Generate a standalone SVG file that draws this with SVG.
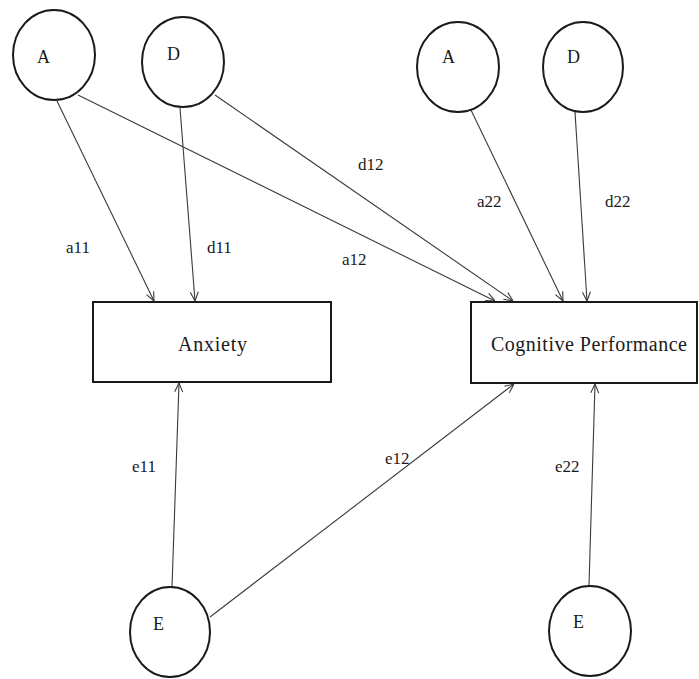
<svg xmlns="http://www.w3.org/2000/svg" width="699" height="679" viewBox="0 0 699 679">
  <style>
    .latent { fill: #ffffff; stroke: #1a1a1a; stroke-width: 2; }
    .observed { fill: #ffffff; stroke: #1a1a1a; stroke-width: 2; }
    .path { stroke: #3a3a3a; stroke-width: 1.1; fill: none; marker-end: url(#arrow); }
    .var { font-family: "Liberation Serif", serif; font-size: 18px; fill: #1a1a1a; }
    .box { font-family: "Liberation Serif", serif; font-size: 20px; fill: #1a1a1a; }
    .coef { font-family: "Liberation Serif", serif; font-size: 17px; fill: #1a1a1a; }
  </style>
  <defs>
    <marker id="arrow" viewBox="0 0 10 10" refX="10" refY="5" markerWidth="10" markerHeight="10" markerUnits="userSpaceOnUse" orient="auto">
      <path d="M1,1 L10,5 L1,9" fill="none" stroke="#3a3a3a" stroke-width="1.1"/>
    </marker>
  </defs>
  <rect width="699" height="679" fill="#ffffff"/>

  <!-- paths between variables -->
  <g id="connectors">
    <line class="path" x1="57" y1="101" x2="154" y2="301"/>
    <line class="path" x1="180" y1="108" x2="195" y2="301"/>
    <line class="path" x1="78" y1="95" x2="495" y2="301"/>
    <line class="path" x1="215" y1="95" x2="513" y2="301"/>
    <line class="path" x1="470" y1="108" x2="563" y2="301"/>
    <line class="path" x1="575" y1="112" x2="587" y2="301"/>
    <line class="path" x1="172" y1="587" x2="179" y2="383"/>
    <line class="path" x1="210" y1="617" x2="514" y2="384"/>
    <line class="path" x1="589" y1="585" x2="595" y2="384"/>

    <text class="coef" x="66" y="253">a11</text>
    <text class="coef" x="207" y="253">d11</text>
    <text class="coef" x="342" y="265">a12</text>
    <text class="coef" x="358" y="170">d12</text>
    <text class="coef" x="477" y="207">a22</text>
    <text class="coef" x="605" y="207">d22</text>
    <text class="coef" x="132" y="472">e11</text>
    <text class="coef" x="385" y="464">e12</text>
    <text class="coef" x="555" y="472">e22</text>
  </g>

  <g id="A1">
    <ellipse class="latent" cx="54" cy="55" rx="41" ry="45"/>
    <text class="var" x="37" y="63">A</text>
  </g>
  <g id="D1">
    <ellipse class="latent" cx="183" cy="62" rx="41" ry="45"/>
    <text class="var" x="167" y="60">D</text>
  </g>
  <g id="A2">
    <ellipse class="latent" cx="458" cy="67" rx="41" ry="45"/>
    <text class="var" x="442" y="63">A</text>
  </g>
  <g id="D2">
    <ellipse class="latent" cx="583" cy="67" rx="40" ry="45"/>
    <text class="var" x="567" y="63">D</text>
  </g>
  <g id="E1">
    <ellipse class="latent" cx="170" cy="632" rx="40" ry="45"/>
    <text class="var" x="153" y="630">E</text>
  </g>
  <g id="E2">
    <ellipse class="latent" cx="590" cy="631" rx="41" ry="45"/>
    <text class="var" x="573" y="628">E</text>
  </g>

  <g id="anxiety">
    <rect class="observed" x="93" y="302" width="238" height="80"/>
    <text class="box" x="178" y="351" textLength="69" lengthAdjust="spacing">Anxiety</text>
  </g>
  <g id="cognitive-performance">
    <rect class="observed" x="471" y="302" width="226" height="81"/>
    <text class="box" x="491" y="351" textLength="196" lengthAdjust="spacing">Cognitive Performance</text>
  </g>
</svg>
